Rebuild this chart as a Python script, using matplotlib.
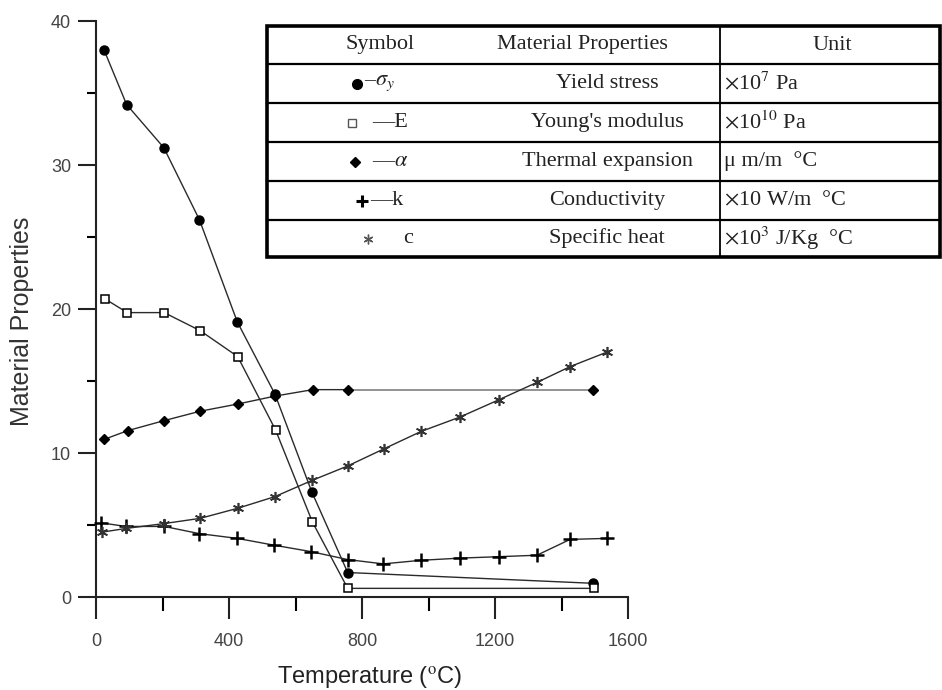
import matplotlib
matplotlib.use("Agg")
import matplotlib.pyplot as plt
from matplotlib.lines import Line2D

# ---------------- data ----------------
ys_T = [24, 92, 204, 311, 425, 538, 649, 757, 1496]
ys_v = [38.0, 34.2, 31.2, 26.2, 19.1, 14.1, 7.3, 1.7, 0.95]

E_T = [27, 94, 205, 313, 426, 540, 651, 757, 1499]
E_v = [20.7, 19.75, 19.75, 18.5, 16.7, 11.6, 5.2, 0.6, 0.6]

alpha_T = [25, 95, 205, 313, 426, 538, 652, 759, 1496]
alpha_v = [10.95, 11.55, 12.25, 12.9, 13.4, 13.95, 14.4, 14.4, 14.4]

k_T = [15, 90, 205, 311, 425, 535, 647, 757, 864, 978, 1095, 1212, 1326, 1426, 1536]
k_v = [5.15, 4.9, 4.9, 4.4, 4.07, 3.6, 3.15, 2.6, 2.3, 2.55, 2.7, 2.8, 2.9, 4.0, 4.07]

c_T = [17, 90, 205, 313, 426, 538, 650, 757, 867, 978, 1095, 1212, 1326, 1426, 1536]
c_v = [4.5, 4.76, 5.1, 5.46, 6.16, 6.97, 8.1, 9.1, 10.3, 11.5, 12.5, 13.7, 14.9, 16.0, 17.0]

x_ticks = [0, 400, 800, 1200, 1600]
y_ticks = [0, 10, 20, 30, 40]

table_header = ["Symbol", "Material Properties", "Unit"]
table_symbols = [r"–$\sigma_y$", "—E", r"—$\alpha$", "—k", "c"]
table_props = ["Yield stress", "Young's modulus", "Thermal expansion",
               "Conductivity", "Specific heat"]
table_units = [r"$\times$10$^{7}$ Pa", r"$\times$10$^{10}$ Pa", "μ m/m  °C",
               r"$\times$10 W/m  °C", r"$\times$10$^{3}$ J/Kg  °C"]

# ---------------- figure ----------------
plt.rcParams["mathtext.fontset"] = "stix"
W, H = 942, 690
fig = plt.figure(figsize=(W / 100, H / 100), dpi=100)
ax = fig.add_axes([96 / W, (H - 597) / H, 532 / W, 576 / H])

lc = "#2a2a2a"
ax.plot(ys_T, ys_v, color=lc, lw=1.0, marker="o", ms=6.5, mfc="black",
        mec="black", clip_on=False, zorder=3)
ax.plot(E_T, E_v, color=lc, lw=1.0, marker="s", ms=6, mfc="white",
        mec="black", mew=1.1, clip_on=False, zorder=3)
ax.plot(alpha_T[:-1], alpha_v[:-1], color=lc, lw=1.0, marker="D", ms=5,
        mfc="black", mec="black", clip_on=False, zorder=3)
ax.plot(alpha_T[-2:], alpha_v[-2:], color="#8a8a8a", lw=1.3, zorder=2)
ax.plot(alpha_T[-1:], alpha_v[-1:], ls="none", marker="D", ms=5,
        mfc="black", mec="black", zorder=3)
ax.plot(k_T, k_v, color=lc, lw=1.0, marker="+", ms=10, mew=1.8,
        mec="black", clip_on=False, zorder=3)
ax.plot(c_T, c_v, color=lc, lw=1.0, marker=(6, 2, 0), ms=8, mew=1.2,
        mec="#333333", clip_on=False, zorder=3)

ax.set_xlim(0, 1600)
ax.set_ylim(0, 40)
ax.set_xticks(x_ticks)
ax.set_yticks(y_ticks)
ax.set_xticks([200, 600, 1000, 1400], minor=True)
ax.set_yticks([5, 15, 25, 35], minor=True)
for s in ["top", "right"]:
    ax.spines[s].set_visible(False)
for s in ["left", "bottom"]:
    ax.spines[s].set_linewidth(1.5)
    ax.spines[s].set_color("#222222")

ax.tick_params(axis="x", which="major", direction="out", length=16, width=1.5,
               pad=10, labelsize=13, colors="#222222")
ax.tick_params(axis="x", which="minor", direction="out", length=10, width=1.5)
ax.tick_params(axis="y", which="major", direction="out", length=13, width=1.5,
               pad=5, labelsize=13, colors="#222222")
ax.tick_params(axis="y", which="minor", direction="out", length=6.5, width=1.5)
for lab in ax.get_xticklabels() + ax.get_yticklabels():
    lab.set_fontfamily("Liberation Sans")
    lab.set_color("#444444")

ax.set_xlabel("Temperature ($^{\\rm o}$C)", fontsize=17,
              fontfamily="Liberation Sans", color="#222222")
ax.xaxis.label.set_va("center")
ax.xaxis.set_label_coords(0.515, -0.139)
ax.set_ylabel("Material Properties", fontsize=18,
              fontfamily="Liberation Sans", color="#333333")
ax.yaxis.label.set_va("center")
ax.yaxis.set_label_coords(-0.139, 0.478)

# ---------------- table overlay (pixel coordinates) ----------------
tx = fig.add_axes([0, 0, 1, 1], facecolor="none")
tx.set_xlim(0, W)
tx.set_ylim(H, 0)
tx.axis("off")

left, right, top, bottom = 267, 940, 26, 257
rows = [26, 64, 103, 142, 181, 220, 257]
col_sep = 720
tx.add_patch(plt.Rectangle((left, top), right - left, bottom - top,
                           facecolor="white", edgecolor="black", lw=2.6, zorder=1))
for yy in rows[1:-1]:
    tx.add_line(Line2D([left, right], [yy, yy], color="black", lw=1.6, zorder=2))
tx.add_line(Line2D([col_sep, col_sep], [top, bottom], color="black", lw=1.3, zorder=2))

serif = dict(family="Liberation Serif", size=16, color="#222222")
tx.text(380, 45, table_header[0], ha="center", va="center", **serif)
tx.text(582, 45, table_header[1], ha="center", va="center", **serif)
tx.text(832, 45, table_header[2], ha="center", va="center", **serif)

centers = [(rows[i] + rows[i + 1]) / 2 for i in range(1, 6)]
sym_markers = [dict(marker="o", ms=7, mfc="black", mec="black"),
               dict(marker="s", ms=6, mfc="white", mec="#555555", mew=1.0),
               dict(marker="D", ms=5, mfc="black", mec="black"),
               dict(marker="+", ms=9, mew=2.2, mec="black"),
               dict(marker=(6, 2, 0), ms=7, mew=1.0, mec="#555555")]
sym_x = [357, 352, 355, 362, 368]
text_x = [364, 372, 372, 370, 403]
for i, cy in enumerate(centers):
    tx.plot([sym_x[i]], [cy], ls="none", zorder=3, **sym_markers[i])
    tx.text(text_x[i], cy, table_symbols[i], ha="left", va="center",
            family="Liberation Serif", size=16, color="#222222")
    tx.text(607, cy, table_props[i], ha="center", va="center", **serif)
    tx.text(724, cy, table_units[i], ha="left", va="center", **serif)

fig.savefig("out.png", dpi=100)
